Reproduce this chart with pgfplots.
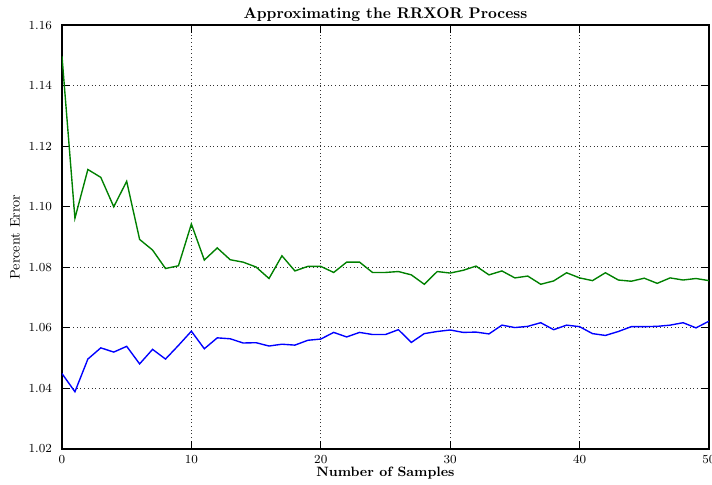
\documentclass[border=0pt]{standalone}
\usepackage{pgfplots}
\pgfplotsset{compat=1.18}
\definecolor{mplgreen}{rgb}{0,0.5,0}
\definecolor{mplblue}{rgb}{0,0,1}
\pgfplotstableread{
x y
0 1.1497
1 1.0962
2 1.1123
3 1.1097
4 1.1000
5 1.1084
6 1.0892
7 1.0857
8 1.0796
9 1.0805
10 1.0943
11 1.0824
12 1.0864
13 1.0825
14 1.0817
15 1.0801
16 1.0763
17 1.0838
18 1.0788
19 1.0803
20 1.0803
21 1.0783
22 1.0817
23 1.0817
24 1.0783
25 1.0783
26 1.0786
27 1.0775
28 1.0744
29 1.0786
30 1.0781
31 1.0790
32 1.0804
33 1.0775
34 1.0788
35 1.0765
36 1.0771
37 1.0744
38 1.0755
39 1.0782
40 1.0765
41 1.0756
42 1.0782
43 1.0758
44 1.0754
45 1.0764
46 1.0747
47 1.0765
48 1.0758
49 1.0763
50 1.0756
}\greendata
\pgfplotstableread{
x y
0 1.0449
1 1.0389
2 1.0497
3 1.0534
4 1.0520
5 1.0539
6 1.0481
7 1.0529
8 1.0497
9 1.0542
10 1.0589
11 1.0531
12 1.0567
13 1.0564
14 1.0550
15 1.0551
16 1.0540
17 1.0546
18 1.0543
19 1.0559
20 1.0563
21 1.0585
22 1.0570
23 1.0585
24 1.0578
25 1.0578
26 1.0594
27 1.0552
28 1.0581
29 1.0588
30 1.0593
31 1.0585
32 1.0586
33 1.0580
34 1.0609
35 1.0601
36 1.0605
37 1.0617
38 1.0594
39 1.0609
40 1.0604
41 1.0581
42 1.0575
43 1.0588
44 1.0604
45 1.0604
46 1.0605
47 1.0609
48 1.0617
49 1.0600
50 1.0622
}\bluedata
\begin{document}
\begin{tikzpicture}
\begin{axis}[
  scale only axis,
  width=420.6pt, height=275.6pt,
  xmin=0, xmax=50, ymin=1.02, ymax=1.16,
  xtick={0,10,20,30,40,50},
  ytick={1.02,1.04,1.06,1.08,1.10,1.12,1.14,1.16},
  yticklabel style={/pgf/number format/fixed,/pgf/number format/precision=2,/pgf/number format/fixed zerofill, xshift=-3pt},
  xticklabel style={yshift=-0.5pt},
  tick label style={font=\fontsize{8}{9.5}\selectfont},
  grid=major,
  major grid style={black!80, line width=0.5pt, dash pattern=on 0.6pt off 1.8pt},
  tick align=inside,
  tick pos=both,
  major tick length=5pt,
  tick style={black, line width=0.6pt},
  axis line style={black, line width=0.8pt},
  every axis title shift=0pt,
  title={\bfseries Approximating the RRXOR Process},
  title style={font=\fontsize{10}{12}\selectfont, at={(axis description cs:0.5,1.0145)}, anchor=base},
  xlabel={\bfseries Number of Samples},
  ylabel={Percent Error},
  xlabel style={font=\fontsize{8.8}{10.5}\selectfont, at={(axis description cs:0.5,-0.066)}, anchor=base},
  ylabel style={font=\fontsize{9}{11}\selectfont, at={(axis description cs:-0.0725,0.5)}, anchor=center},
]
\addplot[mplgreen, line width=0.9pt] table[x=x,y=y] {\greendata};
\addplot[mplblue, line width=0.9pt] table[x=x,y=y] {\bluedata};
\end{axis}
\pgfresetboundingbox
\path (current axis.south west) ++(-40.3pt,-22.8pt);
\path (current axis.north east) ++(2pt,16.3pt);
\end{tikzpicture}
\end{document}
